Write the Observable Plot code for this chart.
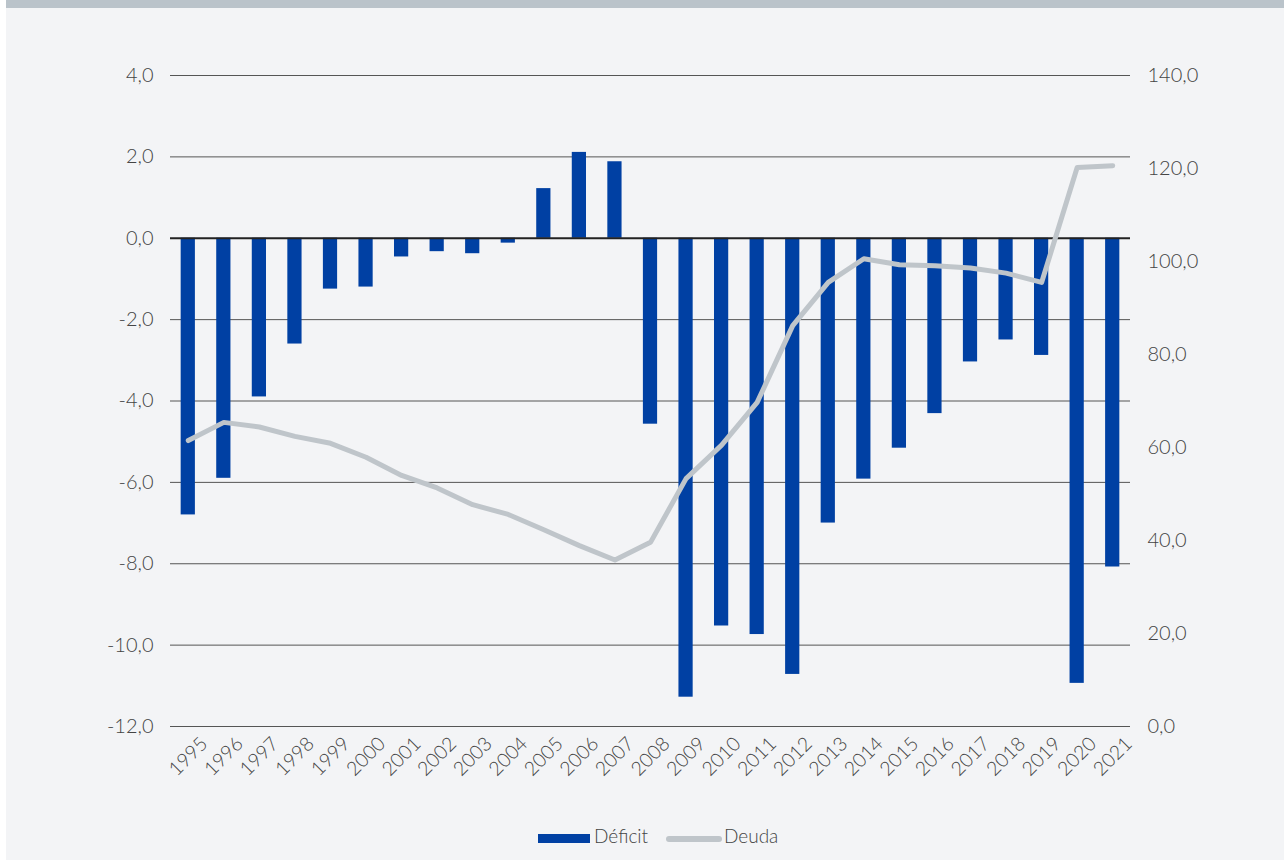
<!DOCTYPE html>
<html>
<head>
<meta charset="utf-8">
<script src="https://cdn.jsdelivr.net/npm/d3@7"></script>
<script src="https://cdn.jsdelivr.net/npm/@observablehq/plot@0.6"></script>
<style>
  html, body { margin: 0; padding: 0; background: #ffffff; }
  #frame {
    position: absolute; left: 6px; top: 0; width: 1278px; height: 852px;
    background: #f3f4f6; border-top: 8px solid #bac3ca;
    font-family: Lato, "Open Sans", sans-serif; font-weight: 300;
  }
  #legend {
    position: absolute; top: 806px; left: 0; width: 1278px; height: 44px;
    font-family: Lato, sans-serif; font-weight: 300; font-size: 19px; color: #444;
  }
  .sw { position: absolute; }
  .lt { position: absolute; }
</style>
</head>
<body>
<div id="frame">
  <div id="chart"></div>
  <div id="legend">
    <div class="sw" style="left:532px; top:20px; width:52px; height:9px; background:#0040a3;"></div>
    <div class="lt" style="left:588px; top:10px;">Déficit</div>
    <div class="sw" style="left:660px; top:22px; width:56px; height:6px; border-radius:3px; background:#bfc5ca;"></div>
    <div class="lt" style="left:718px; top:10px;">Deuda</div>
  </div>
</div>
<script>
const years = ["1995","1996","1997","1998","1999","2000","2001","2002","2003","2004","2005","2006","2007","2008","2009","2010","2011","2012","2013","2014","2015","2016","2017","2018","2019","2020","2021"];
const deficit = [-6.8,-5.9,-3.9,-2.6,-1.25,-1.2,-0.46,-0.33,-0.38,-0.12,1.22,2.11,1.88,-4.57,-11.28,-9.53,-9.74,-10.72,-7.0,-5.92,-5.16,-4.31,-3.04,-2.50,-2.88,-10.94,-8.08];
const deuda = [61.5,65.4,64.4,62.4,60.9,57.9,54.0,51.3,47.7,45.6,42.3,38.9,35.8,39.6,53.3,60.5,69.7,86.2,95.5,100.6,99.3,99.1,98.6,97.5,95.5,120.2,120.6];
const leftTicks = [-12,-10,-8,-6,-4,-2,0,2,4];
const rightTicks = [0,20,40,60,80,100,120,140];

// map the right-hand (Deuda) axis onto the left (Déficit) axis
const toLeft = d3.scaleLinear([0, 140], [-12, 4]);
const fmt = v => (Math.round(v * 10) / 10).toFixed(1).replace(".", ",");

const barData = years.map((y, i) => ({year: y, value: deficit[i]}));
const lineData = years.map((y, i) => ({year: y, value: toLeft(deuda[i])}));

const W = 1278, ML = 164, MR = 154;
const step = (W - ML - MR) / years.length;
const inset = step * 0.3;

const chart = Plot.plot({
  width: W,
  height: 800,
  marginLeft: ML,
  marginRight: MR,
  marginTop: 67,
  marginBottom: 82,
  style: {background: "transparent", fontFamily: "Lato, 'Open Sans', sans-serif", fontWeight: 300, color: "#444"},
  x: {type: "band", domain: years, padding: 0, round: false, axis: null},
  y: {domain: [-12, 4], axis: null},
  marks: [
    Plot.ruleY(leftTicks.filter(d => d !== 0), {stroke: "#555", strokeWidth: 1}),
    Plot.barY(barData, {x: "year", y: "value", fill: "#0040a3", insetLeft: inset, insetRight: inset}),
    Plot.ruleY([0], {stroke: "#222", strokeWidth: 2}),
    Plot.line(lineData, {x: "year", y: "value", stroke: "#bfc5ca", strokeWidth: 5, strokeLinejoin: "round", strokeLinecap: "round"}),
    Plot.axisY(leftTicks, {anchor: "left", label: null, tickSize: 0, tickPadding: 17, tickFormat: fmt, fontSize: 20, fill: "#444"}),
    Plot.axisY(rightTicks.map(v => toLeft(v)), {anchor: "right", label: null, tickSize: 0, tickPadding: 17, tickFormat: d => fmt(toLeft.invert(d)), fontSize: 20, fill: "#444"}),
    Plot.text(years, {x: d => d, frameAnchor: "bottom", dy: 30, rotate: -45, textAnchor: "middle", lineAnchor: "middle", fontSize: 19.5, fill: "#444"})
  ]
});
document.getElementById("chart").appendChild(chart);
</script>
</body>
</html>
